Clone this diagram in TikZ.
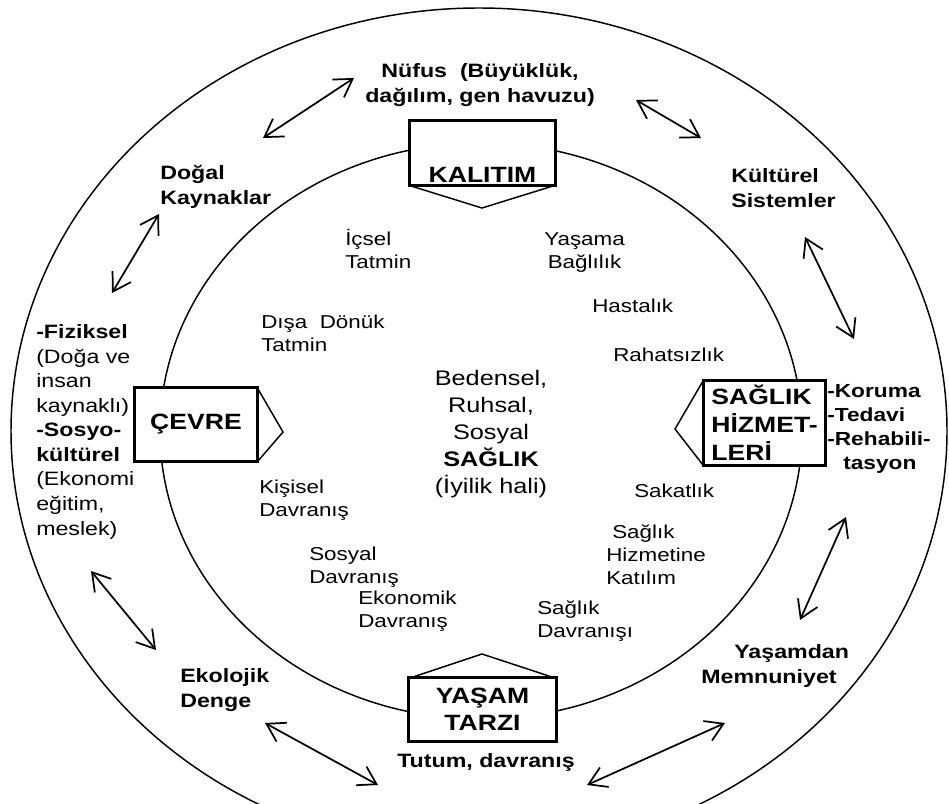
\documentclass[tikz,border=0pt]{standalone}
\usepackage{fontspec}
\setmainfont{Liberation Sans}[FakeStretch=1.2]
\usetikzlibrary{arrows.meta}

\begin{document}
\begin{tikzpicture}[
    x=0.75pt, y=-0.75pt,
    ringline/.style={line width=1.1pt},
    box/.style={draw,line width=2.2pt,fill=white,inner sep=0pt,align=center,
        font=\fontsize{16.6}{21}\selectfont\bfseries},
    chev/.style={line width=1.1pt,line join=miter},
    inlbl/.style={inner sep=0pt,anchor=base west,align=left,
        font=\fontsize{14}{17}\selectfont},
    outlbl/.style={inner sep=0pt,anchor=base west,align=left,
        font=\fontsize{14.5}{18.75}\selectfont\bfseries},
    arr/.style={{Straight Barb[length=13pt,width=16pt]}-{Straight Barb[length=13pt,width=16pt]},line width=1.3pt}
]
\useasboundingbox (0,0) rectangle (949,803);
\clip (0,0) rectangle (949,803);

% rings
\draw[ringline] (479,431) ellipse [x radius=468, y radius=423];
\draw[ringline] (481,431) ellipse [x radius=321, y radius=288];

% pointers under the boxes
\draw[chev] (411,186) -- (482,208) -- (553,186);
\draw[chev] (258,389) -- (283,432) -- (258,461);
\draw[chev] (703,381) -- (675,429) -- (703,465);
\draw[chev] (410,678) -- (482,654) -- (555,678);

% boxes
\node[box,anchor=base,minimum width=109.5pt,text height=46.1pt,text depth=2.6pt] (kalitim) at (482.5,182) {KALITIM};
\node[box,minimum width=92.25pt,minimum height=55.5pt] (cevre) at (196,424.5) {ÇEVRE};
\node[box,align=left,minimum width=91.5pt,minimum height=63.75pt] (hizmet) at (764.5,423) {SAĞLIK\\HİZMET-\\LERİ};
\node[box,minimum width=111pt,minimum height=48pt,font=\fontsize{16.6}{20.25}\selectfont\bfseries] (tarz) at (482.5,709.5) {YAŞAM\\TARZI};

% outer ring labels (base = last line)
\node[outlbl,anchor=base,align=center] (nufus) at (480,102) {Nüfus\ \ (Büyüklük,\\dağılım, gen havuzu)};
\node[outlbl] (dogal) at (160,204) {Doğal\\Kaynaklar};
\node[outlbl] (kultur) at (731,207) {Kültürel\\Sistemler};
\node[outlbl,font=\fontsize{14.5}{18.4}\selectfont] (fiziksel) at (36,535) {\textbf{-Fiziksel}\\(Doğa ve\\insan\\kaynaklı)\\\textbf{-Sosyo-}\\\textbf{kültürel}\\(Ekonomi\\eğitim,\\meslek)};
\node[outlbl,font=\fontsize{14.2}{18}\selectfont\bfseries] (koruma) at (827,469) {-Koruma\\-Tedavi\\-Rehabili-\\\hspace{12pt}tasyon};
\node[outlbl] (ekolojik) at (180,707) {Ekolojik\\Denge};
\node[outlbl] (memnun) at (701,683) {\hspace{24.75pt}Yaşamdan\\Memnuniyet};
\node[outlbl] (tutum) at (397,767) {Tutum, davranış};

% inner ring labels (base = last line)
\node[inlbl] (icsel) at (345,268) {İçsel\\Tatmin};
\node[inlbl,align=center] (bagli) at (544,268) {Yaşama\\Bağlılık};
\node[inlbl] (hasta) at (592,312) {Hastalık};
\node[inlbl] (rahat) at (613,361) {Rahatsızlık};
\node[inlbl] (disa) at (261,351) {Dışa\ \ Dönük\\Tatmin};
\node[inlbl] (kisisel) at (259,516) {Kişisel\\Davranış};
\node[inlbl] (sakat) at (634,497) {Sakatlık};
\node[inlbl] (katilim) at (606,584) {\hspace{4.5pt}Sağlık\\Hizmetine\\Katılım};
\node[inlbl] (sosyal) at (309,583) {Sosyal\\Davranış};
\node[inlbl] (ekonomik) at (358,627) {Ekonomik\\Davranış};
\node[inlbl] (sdavr) at (537,637) {Sağlık\\Davranışı};
\node[inlbl,anchor=base,align=center,font=\fontsize{15.8}{20.25}\selectfont] (saglik) at (491,493) {Bedensel,\\Ruhsal,\\Sosyal\\\textbf{SAĞLIK}\\(İyilik hali)};

% arrow ends
\coordinate (nufL) at (354,78);   \coordinate (dogT) at (263,138);
\coordinate (nufR) at (636,100);  \coordinate (kulT) at (701,138);
\coordinate (dogB) at (159,214);  \coordinate (fizT) at (112,293);
\coordinate (kulB) at (805,237);  \coordinate (korT) at (854,339);
\coordinate (fizB) at (91,571);   \coordinate (ekoT) at (156,650);
\coordinate (korB) at (846,517);  \coordinate (memT) at (800,620);
\coordinate (ekoB) at (265,723);  \coordinate (tutL) at (378,785);
\coordinate (tutR) at (587,785);  \coordinate (memB) at (725,723);

\draw[arr] (nufL)--(dogT);
\draw[arr] (nufR)--(kulT);
\draw[arr] (dogB)--(fizT);
\draw[arr] (kulB)--(korT);
\draw[arr] (fizB)--(ekoT);
\draw[arr] (korB)--(memT);
\draw[arr] (ekoB)--(tutL);
\draw[arr] (tutR)--(memB);
\end{tikzpicture}
\end{document}
